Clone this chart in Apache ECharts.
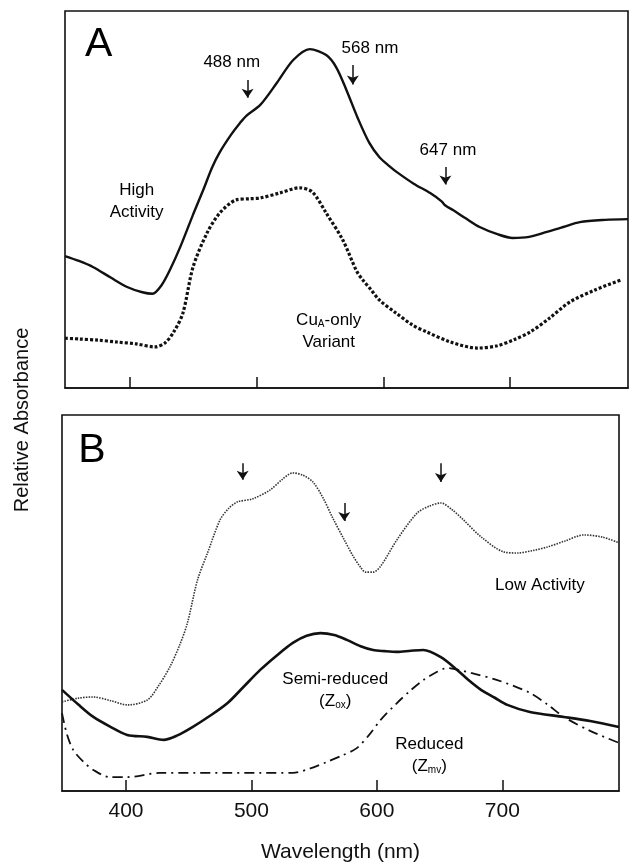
<!DOCTYPE html>
<html><head><meta charset="utf-8">
<script src="https://cdn.jsdelivr.net/npm/echarts@6/dist/echarts.min.js"></script>
<style>html,body{margin:0;padding:0;background:#fff}#c{width:631px;height:865px}</style>
</head><body><div id="c"></div>
<script>
// ---- Data (wavelength in nm, relative absorbance in arbitrary units 0..1 per panel) ----
const tickValues = [400, 500, 600, 700];

// Panel A
const wlHigh = [349,360,371,385,398,410,418,425,432,440,450,458,465,471,480,487,492,503,516,529,542,555,563,571,580,589,597,605,611,624,637,646,649,655,665,676,690,702,715,729,742,755,775,793];
const absHigh = [0.350,0.337,0.321,0.293,0.268,0.254,0.250,0.272,0.315,0.375,0.460,0.525,0.585,0.625,0.672,0.703,0.722,0.751,0.809,0.870,0.899,0.883,0.850,0.790,0.715,0.650,0.612,0.588,0.572,0.542,0.517,0.495,0.484,0.472,0.450,0.427,0.408,0.398,0.401,0.414,0.427,0.440,0.446,0.448];

const wlCuA = [349,360,375,390,405,420,428,435,442,450,461,471,484,495,503,518,534,544,555,568,579,584,590,597,610,623,634,653,674,690,703,716,731,747,767,787];
const absCuA = [0.132,0.130,0.127,0.122,0.117,0.109,0.120,0.150,0.199,0.321,0.411,0.464,0.499,0.502,0.504,0.517,0.531,0.520,0.464,0.393,0.310,0.286,0.262,0.233,0.199,0.167,0.149,0.122,0.106,0.112,0.128,0.149,0.185,0.228,0.260,0.286];

// Panel B
const wlLow = [349,362,374,388,401,417,426,435,443,449,457,465,475,482,489,501,515,525,533,541,549,557,565,574,581,587,591,597,603,616,632,642,651,660,669,683,701,712,725,736,750,765,780,793];
const absLow = [0.237,0.247,0.250,0.240,0.229,0.242,0.280,0.330,0.390,0.447,0.561,0.633,0.721,0.752,0.769,0.777,0.801,0.830,0.846,0.840,0.822,0.780,0.725,0.668,0.625,0.595,0.582,0.582,0.598,0.668,0.739,0.758,0.766,0.748,0.721,0.676,0.636,0.633,0.640,0.649,0.665,0.681,0.675,0.660];

const wlSemi = [349,362,374,388,401,417,430,441,453,467,481,494,507,520,533,544,555,566,576,587,597,606,616,627,637,651,664,673,683,694,704,722,749,770,793];
const absSemi = [0.269,0.230,0.197,0.170,0.149,0.144,0.136,0.148,0.170,0.200,0.234,0.278,0.322,0.360,0.394,0.413,0.420,0.415,0.402,0.385,0.375,0.372,0.370,0.373,0.375,0.356,0.322,0.295,0.269,0.248,0.229,0.210,0.197,0.186,0.170];

const wlRed = [349,353,358,366,374,387,401,427,455,481,507,533,547,560,572,584,594,603,616,627,637,647,656,665,675,696,722,736,749,770,793];
const absRed = [0.207,0.150,0.109,0.078,0.056,0.037,0.037,0.048,0.048,0.048,0.048,0.048,0.060,0.077,0.094,0.114,0.150,0.189,0.234,0.268,0.295,0.315,0.327,0.322,0.314,0.295,0.261,0.230,0.197,0.160,0.128];

// Arrows: [wavelength, top, bottom]
const arrowsA = [[493,0.817,0.770],[576,0.857,0.805],[649,0.586,0.540]];
const arrowsB = [[493,0.872,0.828],[574,0.766,0.718],[651,0.872,0.822]];

// Text annotations: [wavelength, value, text]
const notesA = [
  [375.5,0.91,'{big|A}'],
  [480.5,0.865,'488 nm'],
  [589.5,0.902,'568 nm'],
  [651,0.631,'647 nm'],
  [405.5,0.496,'High\nActivity'],
  [557,0.151,'Cu{sub|A}-only\nVariant']
];
const notesB = [
  [372.9,0.904,'{big|B}'],
  [730,0.548,'Low Activity'],
  [566.8,0.269,'Semi-reduced\n(Z{sub|ox})'],
  [641.8,0.096,'Reduced\n(Z{sub|mv})']
];

// ---- Chart ----
const FONT = '"Liberation Sans", Arial, Helvetica, sans-serif';
const INK = '#111';
const zip = (a, b) => a.map((x, i) => [x, b[i]]);

function xAx(gi, showLabels) {
  return {
    type: 'value', gridIndex: gi, min: 349, max: 793,
    axisLine: {show: true, lineStyle: {color: INK, width: 1.6}},
    axisTick: {show: true, inside: true, length: 11, customValues: tickValues, lineStyle: {color: INK, width: 1.5}},
    axisLabel: {show: showLabels, customValues: tickValues, fontSize: 21, color: INK, fontFamily: FONT, margin: 10},
    splitLine: {show: false},
    name: showLabels ? 'Wavelength (nm)' : '',
    nameLocation: 'middle', nameGap: 51,
    nameTextStyle: {fontSize: 21, color: INK, fontFamily: FONT}
  };
}
function yAx(gi) {
  return {type: 'value', gridIndex: gi, min: 0, max: 1,
    axisLine: {show: false}, axisTick: {show: false}, axisLabel: {show: false}, splitLine: {show: false}};
}
function arrowSeries(arr, gi) {
  return {
    type: 'line', xAxisIndex: gi, yAxisIndex: gi, data: [], silent: true,
    markLine: {
      silent: true, animation: false, symbol: ['none', 'arrow'], symbolSize: 9,
      label: {show: false}, lineStyle: {color: INK, width: 1.5, type: 'solid'},
      emphasis: {disabled: true},
      data: arr.map(a => [{coord: [a[0], a[1]]}, {coord: [a[0], a[2]]}])
    }
  };
}
function noteSeries(arr, gi) {
  return {
    type: 'scatter', xAxisIndex: gi, yAxisIndex: gi, symbolSize: 0, silent: true,
    itemStyle: {color: INK, opacity: 0},
    emphasis: {disabled: true},
    data: arr.map(n => ({value: [n[0], n[1]], label: {formatter: n[2]}})),
    label: {
      show: true, position: 'inside', color: '#000', opacity: 1, textBorderWidth: 0,
      fontSize: 17, lineHeight: 22, fontFamily: FONT,
      rich: {
        sub: {fontSize: 10, color: '#000', fontFamily: FONT, padding: [9, 0, 0, 0], textBorderWidth: 0},
        big: {fontSize: 41, color: '#000', fontFamily: FONT, lineHeight: 44, textBorderWidth: 0}
      }
    }
  };
}

const chart = echarts.init(document.getElementById('c'), null, {renderer: 'canvas'});
chart.setOption({
  animation: false,
  backgroundColor: '#fff',
  grid: [
    {left: 65, top: 11, width: 563, height: 377, show: true, borderColor: INK, borderWidth: 1.6, backgroundColor: 'transparent'},
    {left: 62, top: 415, width: 557, height: 376, show: true, borderColor: INK, borderWidth: 1.6, backgroundColor: 'transparent'}
  ],
  xAxis: [xAx(0, false), xAx(1, true)],
  yAxis: [yAx(0), yAx(1)],
  graphic: [{
    type: 'text', x: 22, y: 420, rotation: Math.PI / 2,
    style: {text: 'Relative Absorbance', fontSize: 20, fontFamily: FONT, fill: INK, align: 'center', verticalAlign: 'middle'}
  }],
  series: [
    {type: 'line', xAxisIndex: 0, yAxisIndex: 0, data: zip(wlHigh, absHigh), showSymbol: false, smooth: 0.3,
      lineStyle: {color: INK, width: 2.4}},
    {type: 'line', xAxisIndex: 0, yAxisIndex: 0, data: zip(wlCuA, absCuA), showSymbol: false, smooth: 0.3,
      lineStyle: {color: INK, width: 3.2, type: [3, 2]}},
    {type: 'line', xAxisIndex: 1, yAxisIndex: 1, data: zip(wlLow, absLow), showSymbol: false, smooth: 0.3,
      lineStyle: {color: '#333', width: 1.6, type: [1.5, 1.2]}},
    {type: 'line', xAxisIndex: 1, yAxisIndex: 1, data: zip(wlSemi, absSemi), showSymbol: false, smooth: 0.3,
      lineStyle: {color: INK, width: 2.6}},
    {type: 'line', xAxisIndex: 1, yAxisIndex: 1, data: zip(wlRed, absRed), showSymbol: false, smooth: 0.3,
      lineStyle: {color: INK, width: 1.8, type: [10, 5, 2, 5]}},
    arrowSeries(arrowsA, 0),
    arrowSeries(arrowsB, 1),
    noteSeries(notesA, 0),
    noteSeries(notesB, 1)
  ]
});
</script></body></html>
